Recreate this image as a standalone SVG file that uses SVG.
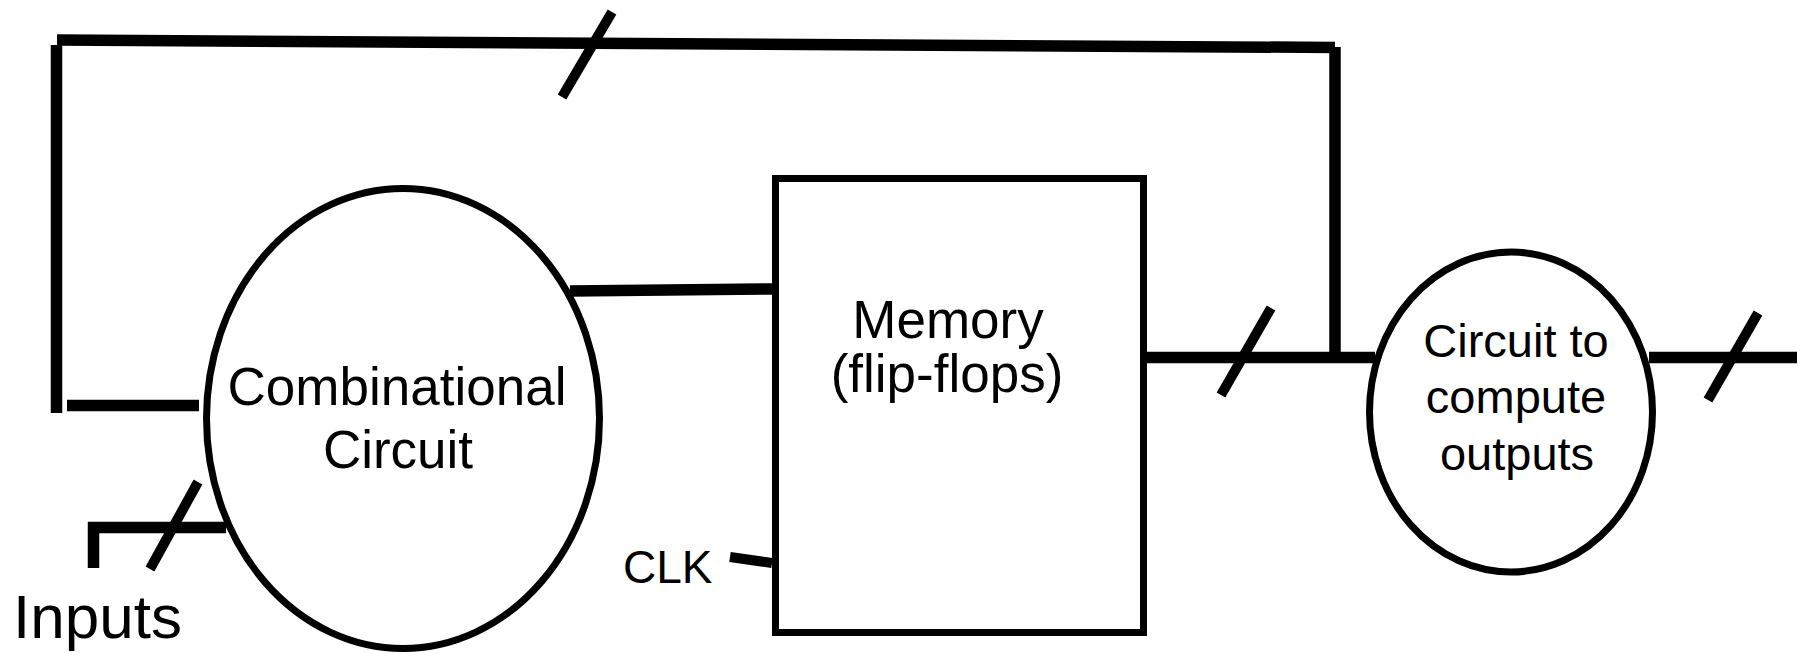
<svg xmlns="http://www.w3.org/2000/svg" width="1808" height="653" viewBox="0 0 1808 653">
  <style>
    .w { stroke: #000; stroke-width: 11.5; stroke-linecap: butt; fill: none; }
    .s { stroke: #000; stroke-width: 10; stroke-linecap: butt; fill: none; }
    .node { stroke: #000; stroke-width: 7; fill: #fff; }
    text { font-family: "Liberation Sans", Arial, sans-serif; fill: #000; }
  </style>
  <rect width="1808" height="653" fill="#fff"/>
  <g id="connectors">
    <line class="w" x1="57" y1="40" x2="1335" y2="47.5"/>
    <line class="s" x1="562" y1="97" x2="612" y2="12"/>
    <line class="w" x1="56.5" y1="45" x2="56.5" y2="413"/>
    <line class="w" x1="67" y1="405.5" x2="199" y2="405.5"/>
    <line class="w" x1="88" y1="527.5" x2="226" y2="527.5"/>
    <line class="w" x1="93.5" y1="522" x2="93.5" y2="568"/>
    <line class="s" x1="150" y1="569" x2="198" y2="482"/>
    <line class="w" x1="570" y1="291" x2="772" y2="289"/>
    <line class="s" x1="730" y1="557" x2="772" y2="563"/>
    <line class="w" x1="1137" y1="357.5" x2="1375" y2="357.5"/>
    <line class="w" x1="1335" y1="47" x2="1335" y2="357"/>
    <line class="s" x1="1221" y1="395" x2="1271" y2="308"/>
    <line class="w" x1="1649" y1="357.5" x2="1797" y2="357.5"/>
    <line class="s" x1="1708" y1="400" x2="1758" y2="313"/>
  </g>
  <g id="combinational">
    <ellipse class="node" cx="403" cy="418.5" rx="196.5" ry="230"/>
    <text x="397" y="405" font-size="53" text-anchor="middle">Combinational</text>
    <text x="398" y="468" font-size="53" text-anchor="middle">Circuit</text>
  </g>
  <g id="memory">
    <rect class="node" x="775.5" y="178.5" width="368" height="454" fill="none"/>
    <text x="948" y="338" font-size="53" text-anchor="middle">Memory</text>
    <text x="947" y="392" font-size="53" text-anchor="middle">(flip-flops)</text>
  </g>
  <g id="output-circuit">
    <ellipse class="node" cx="1511" cy="412" rx="141.5" ry="160"/>
    <text x="1516" y="357" font-size="47" text-anchor="middle">Circuit to</text>
    <text x="1516" y="413" font-size="47" text-anchor="middle">compute</text>
    <text x="1517" y="470" font-size="47" text-anchor="middle">outputs</text>
  </g>
  <g id="clk-label">
    <text x="623" y="583" font-size="46">CLK</text>
  </g>
  <g id="inputs-label">
    <text x="13" y="638" font-size="62">Inputs</text>
  </g>
</svg>
